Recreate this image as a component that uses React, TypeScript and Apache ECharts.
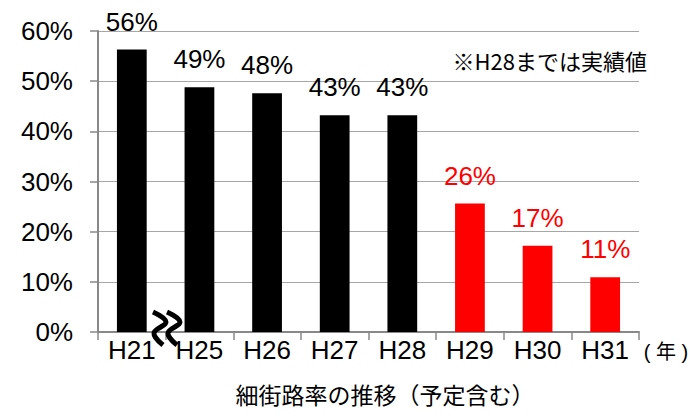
import React, { useEffect, useRef } from "react";
import * as echarts from "echarts";

const categories = ["H21", "H25", "H26", "H27", "H28", "H29", "H30", "H31"];
const values = [56.3, 48.8, 47.6, 43.2, 43.2, 25.6, 17.2, 10.9];
const actualFlags = [true, true, true, true, true, false, false, false];
const yTicks = [0, 10, 20, 30, 40, 50, 60];
const title = "細街路率の推移（予定含む）";
const note = "※H28までは実績値";
const unitLabel = "( 年 )";

const FONT = "'Liberation Sans', Arial, 'Noto Sans CJK JP', sans-serif";
const JFONT = "'Noto Sans CJK JP', 'Liberation Sans', sans-serif";

export default function App() {
  const ref = useRef<HTMLDivElement>(null);
  useEffect(() => {
    document.body.style.margin = "0";
    if (!ref.current) return;
    const chart = echarts.init(ref.current, undefined, { renderer: "svg" });
    const data = values.map((v, i) => ({
      value: v,
      itemStyle: { color: actualFlags[i] ? "#000000" : "#ff0000" },
      label: { color: actualFlags[i] ? "#000000" : "#ff0000" },
    }));
    chart.setOption({
      animation: false,
      textStyle: { fontFamily: FONT },
      grid: { left: 98, right: 51, top: 31, bottom: 85 },
      xAxis: {
        type: "category",
        data: categories,
        boundaryGap: true,
        axisLine: { lineStyle: { color: "#888888", width: 2 } },
        axisTick: { show: true, alignWithLabel: false, length: 8, lineStyle: { color: "#888888", width: 1.5 } },
        axisLabel: { color: "#000", fontSize: 26, margin: 5, fontFamily: FONT },
      },
      yAxis: {
        type: "value",
        min: yTicks[0],
        max: yTicks[yTicks.length - 1],
        interval: 10,
        axisLine: { show: true, lineStyle: { color: "#888888", width: 2 } },
        axisTick: { show: true, length: 8, inside: false, lineStyle: { color: "#888888", width: 1.5 } },
        splitLine: { lineStyle: { color: "#a6a6a6", width: 1 } },
        axisLabel: { color: "#000", fontSize: 26, margin: 25, formatter: (v: number) => v + "%", fontFamily: FONT },
      },
      series: [
        {
          type: "bar",
          data,
          barWidth: "44%",
          label: {
            show: true,
            position: "top",
            fontSize: 26,
            distance: 15,
            fontFamily: FONT,
            formatter: (p: any) => Math.round(p.value) + "%",
          },
        },
      ],
      graphic: [
        {
          type: "text",
          x: 647,
          y: 60,
          style: { text: note, fontSize: 22, fill: "#000", fontFamily: JFONT, align: "right", verticalAlign: "middle" },
        },
        {
          type: "text",
          x: 666,
          y: 352,
          style: { text: unitLabel, fontSize: 20, fill: "#000", fontFamily: FONT, align: "center", verticalAlign: "middle" },
        },
        {
          type: "text",
          x: 385,
          y: 394,
          style: { text: title, fontSize: 23, fill: "#000", fontFamily: JFONT, align: "center", verticalAlign: "middle" },
        },
        {
          type: "polyline",
          shape: { points: [[153, 312], [166, 322], [154, 333], [163, 345]], smooth: 0.4 },
          style: { stroke: "#000", lineWidth: 5, fill: null },
          z: 100,
        },
        {
          type: "polyline",
          shape: { points: [[167, 312], [180, 322], [168, 333], [177, 345]], smooth: 0.4 },
          style: { stroke: "#000", lineWidth: 5, fill: null },
          z: 100,
        },
      ],
    });
    return () => chart.dispose();
  }, []);
  return <div ref={ref} style={{ width: 690, height: 417 }} />;
}
